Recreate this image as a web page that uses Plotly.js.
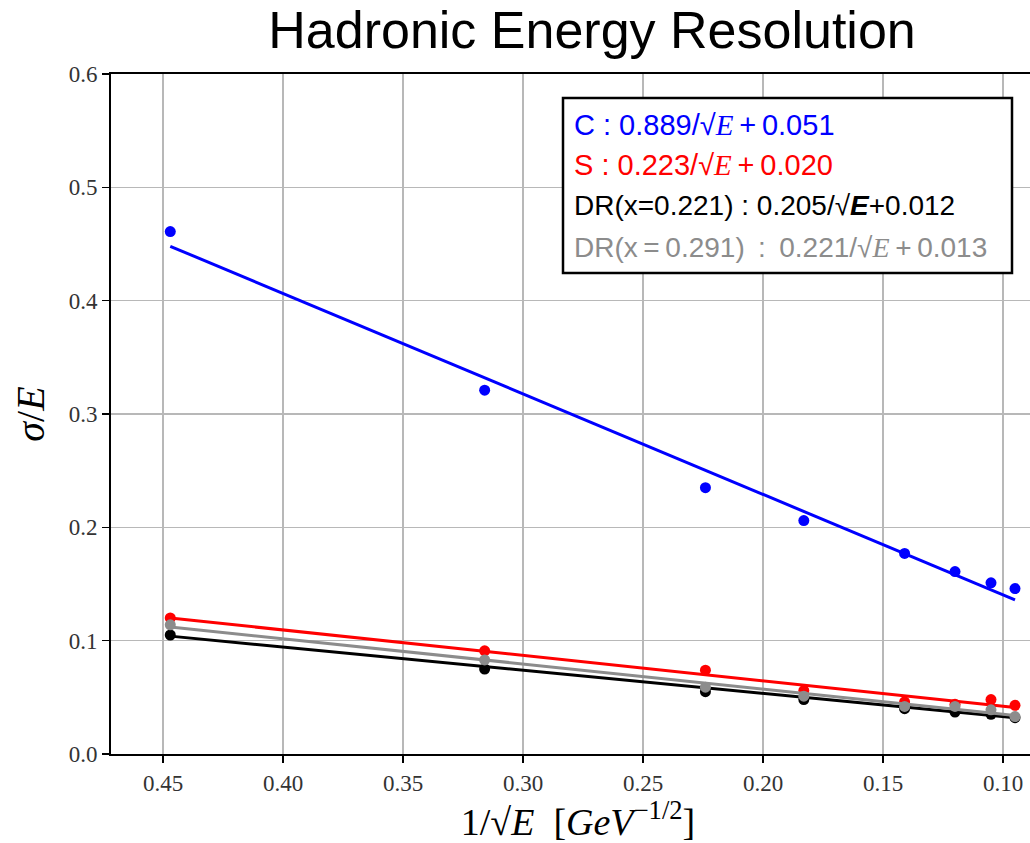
<!DOCTYPE html>
<html>
<head>
<meta charset="utf-8">
<script src="https://cdn.plot.ly/plotly-3.0.1.min.js"></script>
<style>
html,body{margin:0;padding:0;overflow:hidden;background:#fff;}
#chart{width:1045px;height:843px;}
</style>
</head>
<body>
<div id="chart"></div>
<script>
// 1/sqrt(E) positions of the measurements
const xInvSqrtE = [0.447, 0.316, 0.224, 0.183, 0.141, 0.120, 0.105, 0.095];
// sigma/E values
const resC   = [0.461, 0.321, 0.235, 0.206, 0.177, 0.161, 0.151, 0.146];
const resS   = [0.120, 0.091, 0.074, 0.056, 0.046, 0.044, 0.048, 0.043];
const resDR1 = [0.105, 0.075, 0.055, 0.048, 0.040, 0.037, 0.035, 0.032];
const resDR2 = [0.114, 0.083, 0.059, 0.051, 0.042, 0.042, 0.039, 0.033];
// fit line end points (at first and last x)
const fitX     = [0.447, 0.095];
const fitC     = [0.448, 0.136];
const fitS     = [0.120, 0.041];
const fitDR1   = [0.104, 0.032];
const fitDR2   = [0.112, 0.034];
// legend labels
const serifE = '<span style="font-family:\'Liberation Serif\'"><i>E</i></span>';
const labels = [
  'C : 0.889/√' + serifE + '\u2009+\u20090.051',
  'S : 0.223/√' + serifE + '\u2009+\u20090.020',
  'DR(x=0.221) : 0.205/√<b><i>E</i></b>+0.012',
  'DR(x\u2009=\u20090.291) \u2009:\u2009 0.221/√' + serifE + '\u2009+\u20090.013'
];
const colors = ['#0000ff', '#ff0000', '#000000', '#8c8c8c'];
const series = [resC, resS, resDR1, resDR2];
const fits = [fitC, fitS, fitDR1, fitDR2];

const traces = [];
for (let i = 0; i < 4; i++) {
  traces.push({x: fitX, y: fits[i], mode: 'lines', line: {color: colors[i], width: 3}, showlegend: false, hoverinfo: 'skip'});
  traces.push({x: xInvSqrtE, y: series[i], mode: 'markers', marker: {color: colors[i], size: 11}, showlegend: false});
}

const annotations = [];
const lineY = [125, 165, 205, 247];
const lineSize = [29, 29, 28, 28];
for (let i = 0; i < 4; i++) {
  annotations.push({
    xref: 'paper', yref: 'paper',
    x: (572 - 111) / 934, y: 1 - (lineY[i] - 74) / 680,
    xanchor: 'left', yanchor: 'middle', showarrow: false,
    text: labels[i],
    font: {family: 'Liberation Sans, Arial, sans-serif', size: lineSize[i], color: colors[i]}
  });
}

const layout = {
  width: 1045, height: 843,
  margin: {l: 111, r: 0, t: 74, b: 89},
  paper_bgcolor: '#ffffff', plot_bgcolor: '#ffffff',
  title: {text: 'Hadronic Energy Resolution', font: {family: 'Liberation Sans, Arial, sans-serif', size: 52, color: '#000'},
          xref: 'container', x: 592 / 1045, xanchor: 'center', yref: 'container', y: 1 - 30 / 843, yanchor: 'middle'},
  xaxis: {
    range: [0.4717, 0.0825], dtick: 0.05, tick0: 0.1, tickformat: '.2f',
    showgrid: true, gridcolor: '#b8b8b8', gridwidth: 1.5, zeroline: false,
    showline: true, linecolor: '#000', linewidth: 2, mirror: true,
    ticks: 'outside', ticklen: 7, tickwidth: 1.5, tickcolor: '#000',
    tickfont: {family: 'Liberation Serif, serif', size: 23, color: '#333'},
    title: {text: '1/√<i>E</i>  [<i>GeV</i><sup>−1/2</sup>]', font: {family: 'Liberation Serif, serif', size: 38, color: '#000'}, standoff: 8}
  },
  yaxis: {
    range: [0, 0.6], dtick: 0.1, tickformat: '.1f',
    showgrid: true, gridcolor: '#b8b8b8', gridwidth: 1.5, zeroline: false,
    showline: true, linecolor: '#000', linewidth: 2, mirror: true,
    ticks: 'outside', ticklen: 7, tickwidth: 1.5, tickcolor: '#000',
    tickfont: {family: 'Liberation Serif, serif', size: 23, color: '#333'},
    title: {text: '<i>σ</i>/<i>E</i>', font: {family: 'Liberation Serif, serif', size: 40, color: '#000'}, standoff: 12}
  },
  shapes: [{
    type: 'rect', xref: 'paper', yref: 'paper',
    x0: (563 - 111) / 934, x1: (1012 - 111) / 934,
    y0: 1 - (273 - 74) / 680, y1: 1 - (98 - 74) / 680,
    line: {color: '#000', width: 2.5}, fillcolor: '#ffffff', layer: 'above'
  }],
  annotations: annotations
};

Plotly.newPlot('chart', traces, layout, {displayModeBar: false, staticPlot: true});
</script>
</body>
</html>
